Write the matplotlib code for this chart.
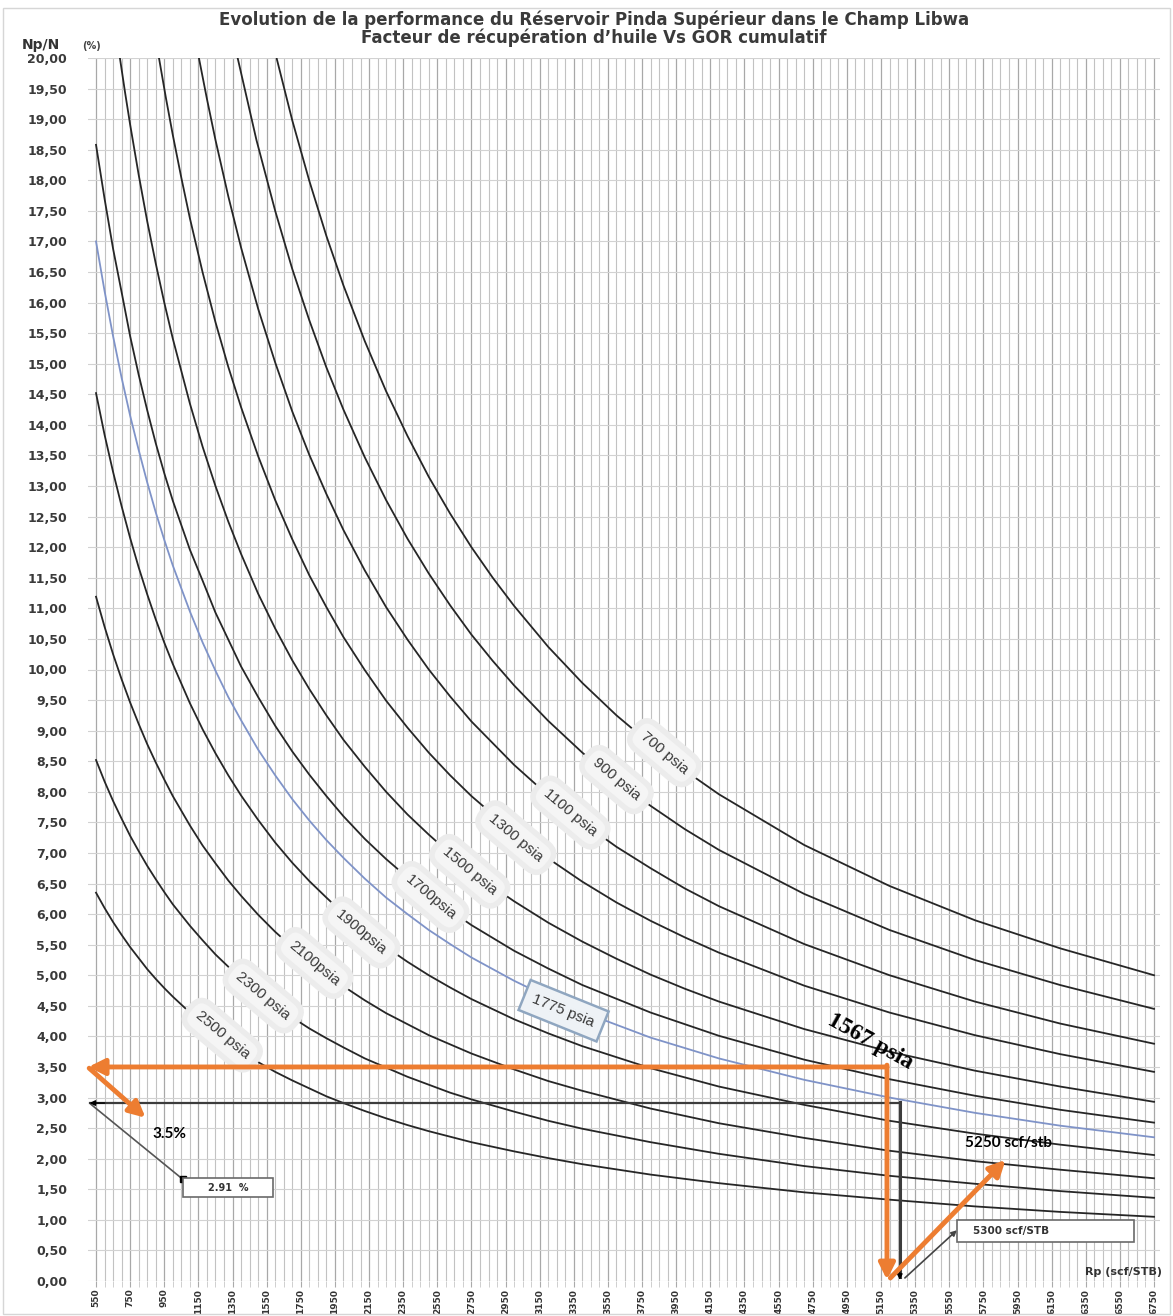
import matplotlib
matplotlib.use("Agg")
import matplotlib.pyplot as plt
from matplotlib.ticker import MultipleLocator, FixedLocator, FuncFormatter
from matplotlib.patches import Rectangle

# ---------------- data ----------------
title_1 = "Evolution de la performance du Réservoir Pinda Supérieur dans le Champ Libwa"
title_2 = "Facteur de récupération d\u2019huile Vs GOR cumulatif"

x_ticks = list(range(550, 6751, 200))
y_ticks = [i * 0.5 for i in range(41)]

rp_700 = [1608, 1700, 1800, 1900, 2000, 2125, 2250, 2375, 2500, 2625, 2750, 2875, 3000, 3200, 3400, 3600,
          3800, 4000, 4200, 4700, 5200, 5700, 6200, 6750]
np_700 = [20.0, 18.98, 17.99, 17.09, 16.28, 15.37, 14.55, 13.82, 13.15, 12.55, 12.00, 11.50, 11.04, 10.37, 9.78,
          9.25, 8.78, 8.35, 7.96, 7.13, 6.46, 5.90, 5.44, 5.00]

rp_900 = [1380, 1490, 1600, 1700, 1800, 1900, 2000, 2125, 2250, 2375, 2500, 2625, 2750, 2875, 3000, 3200, 3400,
          3600, 3800, 4000, 4200, 4700, 5200, 5700, 6200, 6750]
np_900 = [20.0, 18.66, 17.50, 16.55, 15.71, 14.94, 14.25, 13.47, 12.77, 12.14, 11.57, 11.05, 10.57, 10.14, 9.74,
          9.16, 8.64, 8.18, 7.77, 7.39, 7.05, 6.33, 5.74, 5.25, 4.84, 4.45]

rp_1100 = [1153, 1200, 1250, 1325, 1400, 1500, 1600, 1700, 1800, 1900, 2000, 2125, 2250, 2375, 2500, 2625, 2750,
           3000, 3200, 3400, 3600, 3800, 4000, 4200, 4700, 5200, 5700, 6200, 6750]
np_1100 = [20.0, 19.33, 18.66, 17.74, 16.90, 15.90, 15.02, 14.22, 13.51, 12.87, 12.28, 11.62, 11.02, 10.49, 10.00,
           9.56, 9.15, 8.44, 7.94, 7.50, 7.10, 6.75, 6.42, 6.13, 5.51, 5.00, 4.57, 4.21, 3.88]

rp_1300 = [919, 960, 1000, 1050, 1100, 1175, 1250, 1325, 1400, 1500, 1600, 1700, 1800, 1900, 2000, 2125, 2250,
           2375, 2500, 2625, 2750, 3000, 3200, 3400, 3600, 3800, 4000, 4200, 4700, 5200, 5700, 6200, 6750]
np_1300 = [20.0, 19.34, 18.74, 18.04, 17.38, 16.49, 15.68, 14.95, 14.29, 13.49, 12.77, 12.13, 11.54, 11.02, 10.53,
           9.99, 9.49, 9.05, 8.64, 8.27, 7.93, 7.33, 6.91, 6.53, 6.19, 5.89, 5.62, 5.37, 4.83, 4.39, 4.02, 3.71, 3.42]

rp_1500 = [690, 720, 750, 800, 850, 900, 950, 1000, 1100, 1175, 1250, 1325, 1400, 1500, 1600, 1700, 1800, 1900,
           2000, 2125, 2250, 2375, 2500, 2625, 2750, 2875, 3000, 3200, 3400, 3600, 3800, 4000, 4200, 4700, 5200,
           5700, 6200, 6750]
np_1500 = [20.0, 19.44, 18.91, 18.09, 17.33, 16.64, 16.00, 15.41, 14.35, 13.64, 13.00, 12.42, 11.89, 11.24, 10.67,
           10.15, 9.68, 9.25, 8.85, 8.41, 8.00, 7.63, 7.30, 6.99, 6.71, 6.45, 6.21, 5.86, 5.55, 5.27, 5.01, 4.78,
           4.57, 4.12, 3.75, 3.44, 3.18, 2.93]

rp_low = [550, 600, 650, 700, 750, 800, 850, 900, 950, 1000, 1100, 1175, 1250, 1325, 1400, 1500, 1600, 1700,
          1800, 1900, 2000, 2125, 2250, 2375, 2500, 2625, 2750, 3000, 3200, 3400, 3800, 4200, 4700, 5200, 5700,
          6200, 6750]
np_1700 = [18.58, 17.70, 16.88, 16.17, 15.45, 14.82, 14.24, 13.70, 13.21, 12.76, 11.96, 11.45, 10.93, 10.49, 10.05,
           9.55, 9.08, 8.66, 8.28, 7.93, 7.60, 7.23, 6.90, 6.60, 6.32, 6.06, 5.82, 5.40, 5.11, 4.84, 4.39, 4.01,
           3.62, 3.30, 3.03, 2.80, 2.59]
np_1775 = [17.00, 16.19, 15.45, 14.77, 14.15, 13.59, 13.06, 12.57, 12.12, 11.70, 10.95, 10.44, 9.98, 9.55, 9.17,
           8.69, 8.27, 7.88, 7.53, 7.21, 6.92, 6.58, 6.27, 6.00, 5.74, 5.51, 5.29, 4.91, 4.64, 4.40, 3.98, 3.64,
           3.29, 3.00, 2.75, 2.54, 2.35]
np_1900 = [14.52, 13.84, 13.23, 12.67, 12.15, 11.67, 11.23, 10.82, 10.44, 10.09, 9.45, 9.02, 8.63, 8.27, 7.94,
           7.54, 7.17, 6.84, 6.54, 6.27, 6.01, 5.72, 5.46, 5.22, 5.00, 4.80, 4.61, 4.28, 4.05, 3.84, 3.48, 3.18,
           2.88, 2.62, 2.41, 2.23, 2.06]
np_2100 = [11.19, 10.70, 10.25, 9.84, 9.46, 9.11, 8.78, 8.48, 8.20, 7.93, 7.45, 7.12, 6.83, 6.55, 6.30, 5.99,
           5.71, 5.46, 5.23, 5.01, 4.82, 4.59, 4.38, 4.20, 4.02, 3.87, 3.72, 3.46, 3.27, 3.11, 2.82, 2.58, 2.34,
           2.13, 1.96, 1.82, 1.68]
np_2300 = [8.52, 8.17, 7.85, 7.56, 7.28, 7.03, 6.79, 6.57, 6.36, 6.16, 5.81, 5.57, 5.34, 5.14, 4.95, 4.72, 4.50,
           4.31, 4.13, 3.97, 3.82, 3.64, 3.49, 3.34, 3.21, 3.08, 2.97, 2.77, 2.62, 2.49, 2.27, 2.08, 1.88, 1.72,
           1.59, 1.47, 1.36]
np_2500 = [6.35, 6.10, 5.87, 5.66, 5.46, 5.28, 5.10, 4.94, 4.79, 4.65, 4.39, 4.21, 4.04, 3.89, 3.75, 3.58, 3.42,
           3.28, 3.15, 3.02, 2.91, 2.78, 2.66, 2.55, 2.45, 2.36, 2.27, 2.12, 2.01, 1.91, 1.74, 1.60, 1.45, 1.33,
           1.22, 1.13, 1.05]

curve_names = ["700 psia", "900 psia", "1100 psia", "1300 psia", "1500 psia", "1700psia",
               "1900psia", "2100psia", "2300 psia", "2500 psia"]
curve_x = [rp_700, rp_900, rp_1100, rp_1300, rp_1500, rp_low, rp_low, rp_low, rp_low, rp_low]
curve_y = [np_700, np_900, np_1100, np_1300, np_1500, np_1700, np_1900, np_2100, np_2300, np_2500]
label_rp = [3880, 3600, 3330, 3010, 2740, 2510, 2105, 1830, 1530, 1290]
label_np = [8.64, 8.20, 7.66, 7.25, 6.70, 6.28, 5.70, 5.20, 4.66, 4.02]

blue_name = "1775 psia"
blue_label_rp, blue_label_np = 3290, 4.42

# annotation values
orange_np = 3.5          # %
orange_rp = 5185         # scf/stb
orange_text_np = "3.5%"
orange_text_rp = "5250 scf/stb"
orange_psia = "1567 psia"
black_np = 2.91
black_rp = 5260
black_box_np = "2.91  %"
black_box_rp = "5300 scf/STB"

# ---------------- figure ----------------
W, H = 1173, 1316
fig = plt.figure(figsize=(W / 100, H / 100), dpi=100)
fig.patch.set_facecolor("white")
ax = fig.add_axes([88 / W, 1 - 1281 / H, (1160 - 88) / W, (1281 - 58) / H])
ax.set_xlim(503, 6785)
ax.set_ylim(0, 20)

# grid
ax.xaxis.set_major_locator(FixedLocator(x_ticks))
ax.xaxis.set_minor_locator(MultipleLocator(50))
ax.yaxis.set_major_locator(FixedLocator(y_ticks))
ax.grid(which="minor", axis="x", color="#c2c2c2", lw=0.8)
ax.grid(which="major", axis="x", color="#a8a8a8", lw=0.9)
ax.grid(which="major", axis="y", color="#d2d2d2", lw=0.8)
ax.set_axisbelow(True)

ax.xaxis.set_major_formatter(FuncFormatter(lambda v, p: f"{int(v)}"))
ax.yaxis.set_major_formatter(FuncFormatter(lambda v, p: f"{v:.2f}".replace(".", ",")))
ax.tick_params(axis="x", which="major", length=4, color="#aaaaaa", labelsize=6.5, labelrotation=90,
               pad=1.5, labelcolor="#333333")
ax.tick_params(axis="x", which="minor", length=4, color="#c8c8c8")
ax.tick_params(axis="y", which="major", length=0, labelsize=9, pad=15, labelcolor="#3a3a3a")
for t in ax.get_xticklabels() + ax.get_yticklabels():
    t.set_fontweight("bold")
for s in ax.spines.values():
    s.set_visible(False)

# curves
for xs, ys in zip(curve_x, curve_y):
    ax.plot(xs, ys, color="#262626", lw=1.3, zorder=3, solid_joinstyle="round")
ax.plot(rp_low, np_1775, color="#7f93c8", lw=1.3, zorder=3, solid_joinstyle="round")

# curve labels
for name, lx, ly in zip(curve_names, label_rp, label_np):
    ax.text(lx, ly, name, rotation=-40, rotation_mode="anchor", ha="center", va="center",
            fontsize=11, color="#3a3a3a", family="Liberation Sans", zorder=5,
            bbox=dict(boxstyle="round,pad=0.6,rounding_size=0.9", fc="#f5f5f5", ec="#ececec", lw=4))
ax.text(blue_label_rp, blue_label_np, blue_name, rotation=-22, rotation_mode="anchor",
        ha="center", va="center", fontsize=11, color="#3a3a3a", family="Liberation Sans", zorder=5,
        bbox=dict(boxstyle="square,pad=0.6", fc="#eef2f6", ec="#8fa6c0", lw=1.8))

# black annotation lines
gray = "#3c3c3c"
ax.plot([515, black_rp], [black_np, black_np], color=gray, lw=1.6, zorder=4)
ax.plot([black_rp, black_rp], [black_np + 0.02, 0.06], color=gray, lw=2.2, zorder=4)
ax.annotate("", xy=(512, black_np), xytext=(600, black_np),
            arrowprops=dict(arrowstyle="-|>", color="black", lw=1, mutation_scale=8, shrinkA=0, shrinkB=0),
            zorder=5)
ax.annotate("", xy=(black_rp, 0.02), xytext=(black_rp, 0.2),
            arrowprops=dict(arrowstyle="-|>", color="black", lw=1, mutation_scale=8, shrinkA=0, shrinkB=0),
            zorder=5)
# callouts
ax.plot([520, 1060], [black_np - 0.02, 1.66], color="#555555", lw=1.2, zorder=4)
ax.plot([1060], [1.66], marker="s", ms=4, color="black", zorder=5)
ax.add_patch(Rectangle((1060, 1.37), 525, 0.31, fc="white", ec="#6a6a6a", lw=1.2, zorder=5))
ax.text(1322, 1.525, black_box_np, ha="center", va="center", fontsize=7, fontweight="bold",
        color="#333333", zorder=6)
ax.annotate("", xy=(5595, 0.83), xytext=(black_rp + 30, 0.05),
            arrowprops=dict(arrowstyle="-|>", color="#444444", lw=1.2, mutation_scale=8, shrinkA=0, shrinkB=0),
            zorder=5)
ax.add_patch(Rectangle((5597, 0.64), 1036, 0.36, fc="white", ec="#6a6a6a", lw=1.2, zorder=5))
ax.text(5690, 0.82, black_box_rp, ha="left", va="center", fontsize=7.5, fontweight="bold",
        color="#333333", zorder=6)

# orange annotation
orange = "#ED7D31"
ap = dict(arrowstyle="-|>", color=orange, lw=3.5, mutation_scale=24, shrinkA=0, shrinkB=0)
ax.annotate("", xy=(505, orange_np), xytext=(orange_rp, orange_np), arrowprops=ap, zorder=7,
            annotation_clip=False)
ax.annotate("", xy=(orange_rp, 0.02), xytext=(orange_rp, orange_np + 0.03), arrowprops=ap, zorder=7,
            annotation_clip=False)
ax.annotate("", xy=(840, 2.67), xytext=(510, orange_np - 0.02), arrowprops=ap, zorder=7)
ax.annotate("", xy=(5880, 1.98), xytext=(orange_rp + 20, 0.05), arrowprops=ap, zorder=7)
ax.text(880, 2.40, orange_text_np, ha="left", va="center", fontsize=11, fontweight="bold",
        family="Lato", color="black", zorder=8)
ax.text(5640, 2.25, orange_text_rp, ha="left", va="center", fontsize=11, fontweight="bold",
        family="Lato", color="black", zorder=8)
ax.text(5090, 3.92, orange_psia, rotation=-29, rotation_mode="anchor", ha="center", va="center",
        fontsize=17, fontweight="bold", family="Liberation Serif", color="black", zorder=8)

# axis captions
ax.text(6795, 0.06, "Rp (scf/STB)", ha="right", va="bottom", fontsize=8, fontweight="bold",
        color="#333333", zorder=6, clip_on=False)
fig.text(22 / W, 1 - 49 / H, "Np/N", ha="left", va="baseline", fontsize=10, fontweight="bold", color="#333333")
fig.text(82 / W, 1 - 49 / H, "(%)", ha="left", va="baseline", fontsize=7, fontweight="bold", color="#444444")

# titles
fig.text(594 / W, 1 - 20 / H, title_1, ha="center", va="center", fontsize=12, fontweight="bold", color="#3a3a3a")
fig.text(594 / W, 1 - 38 / H, title_2, ha="center", va="center", fontsize=12, fontweight="bold", color="#3a3a3a")

# chart border
fig.add_artist(Rectangle((3 / W, 2 / H), 1 - 6 / W, 1 - 10 / H, transform=fig.transFigure,
                         fill=False, ec="#d6d6d6", lw=1))

fig.savefig("out.png", dpi=100)
